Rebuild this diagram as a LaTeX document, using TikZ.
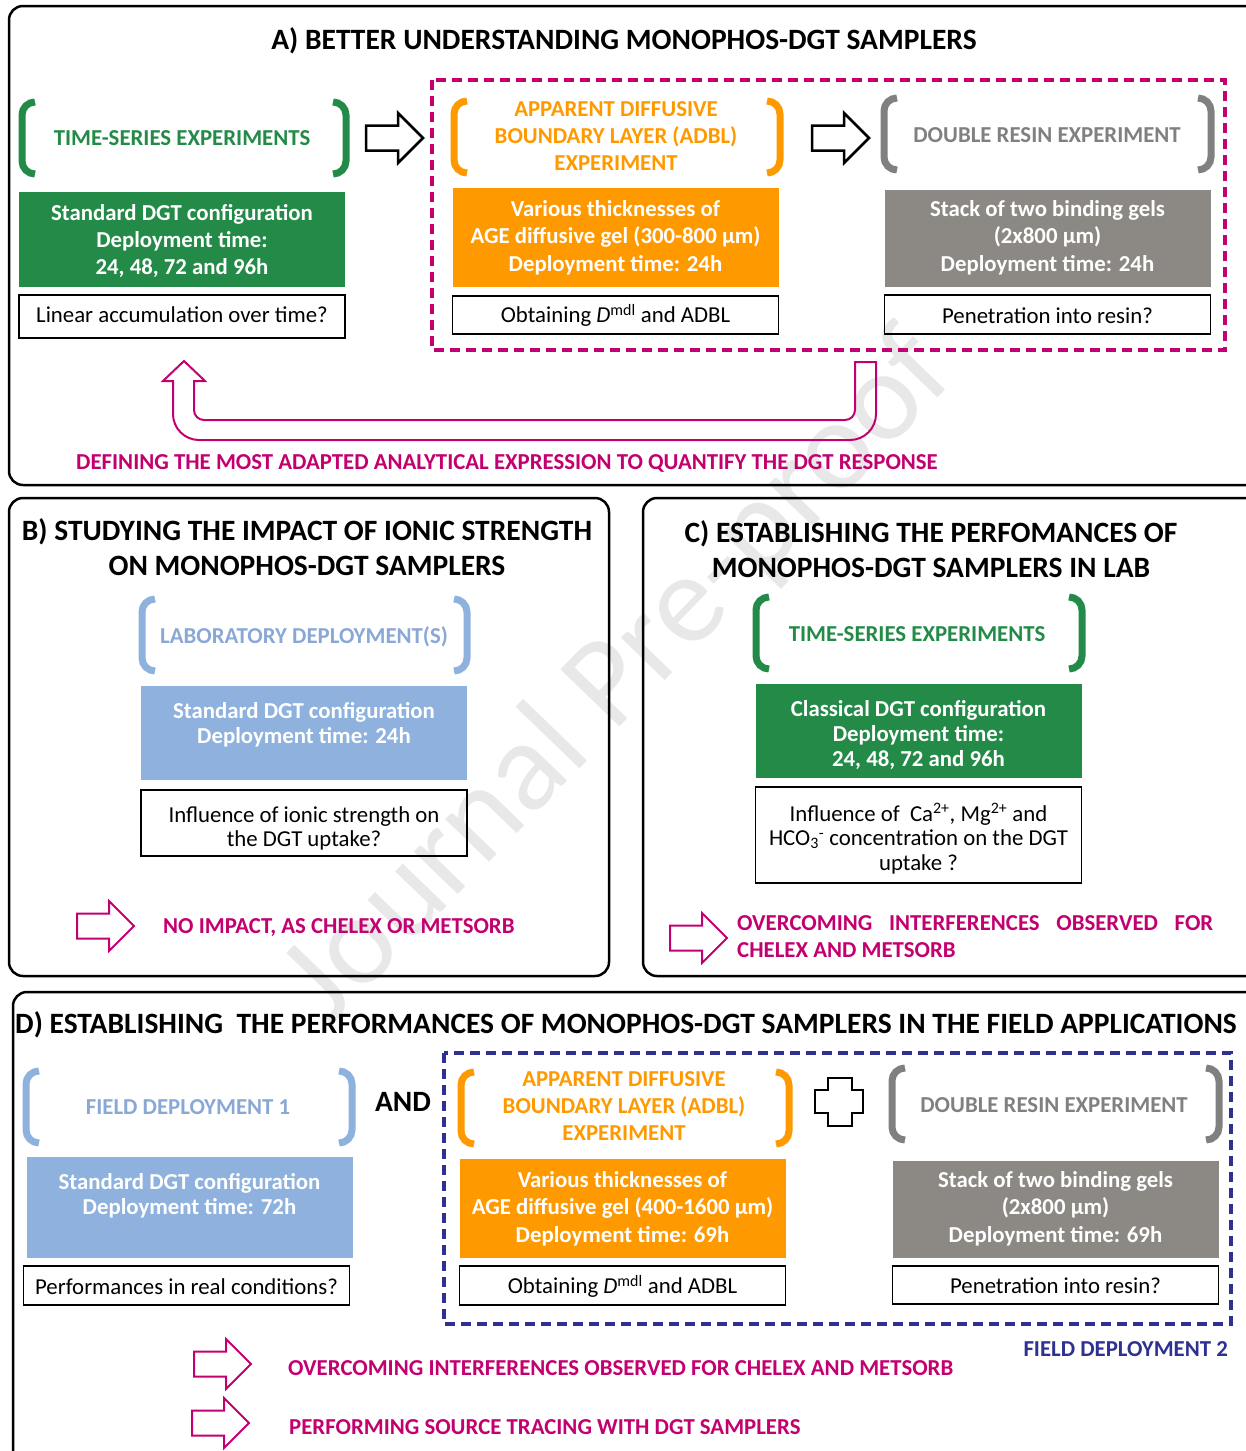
\documentclass[tikz,border=0pt]{standalone}
\usepackage{fontspec}
\setmainfont{Carlito}
\definecolor{grn}{RGB}{35,139,71}
\definecolor{org}{RGB}{255,153,0}
\definecolor{gry}{RGB}{128,128,128}
\definecolor{gbox}{RGB}{140,137,132}
\definecolor{lblue}{RGB}{142,178,221}
\definecolor{lbtxt}{RGB}{138,168,214}
\definecolor{mag}{RGB}{194,0,112}
\definecolor{navy}{RGB}{46,49,146}
\tikzset{
  panel/.style={draw=black, line width=2.5, rounded corners=14},
  ttl/.style={font=\fontsize{29.5}{35}\selectfont\bfseries, align=center, inner sep=0},
  brk/.style={line width=7, line cap=butt},
  lbrk/.pic={\draw (13,-36) to[out=180,in=90] (0,-23) -- (0,23) to[out=-90,in=180] (13,36);},
  rbrk/.pic={\draw (-13,-36) to[out=0,in=90] (0,-23) -- (0,23) to[out=-90,in=0] (-13,36);},
  barrow/.pic={\draw (0,-12.5) -- (32,-12.5) -- (32,-25) -- (57,0) -- (32,25) -- (32,12.5) -- (0,12.5) -- cycle;},
  btxt/.style={font=\fontsize{22.8}{27}\selectfont\bfseries, align=center, inner sep=0},
  cbox/.style={inner sep=0, minimum width=326},
  wbox/.style={draw=black, line width=1.6, inner sep=0, minimum width=326},
  wtxt/.style={font=\fontsize{22.8}{25}\selectfont, align=center, inner sep=0},
  magtxt/.style={font=\fontsize{22.8}{27}\selectfont\bfseries, text=mag, inner sep=0, anchor=west},
  dashbox/.style={line width=3.5, dash pattern=on 10 off 6},
}
\begin{document}
\begin{tikzpicture}[x=1pt,y=-1pt]
\useasboundingbox (0,0) rectangle (1245,1451);
% watermark
\node[rotate=46, text=black!9, inner sep=0, font=\fontsize{128}{128}\selectfont] (wm) at (620,678) {Journal Pre-proof};

% ---------------- Panel A
\draw[panel] (9,6) rectangle (1262,485);
\node[ttl] (tA) at (624,41) {A) BETTER UNDERSTANDING MONOPHOS-DGT SAMPLERS};
\pic[brk, color=grn] at (22,138) {lbrk};
\pic[brk, color=grn] at (346,138) {rbrk};
\node[btxt, text=grn] (lA1) at (182,138) {TIME-SERIES EXPERIMENTS};
\node[cbox, fill=grn, minimum height=95] (bA1) at (182,239.5) {};
\node[btxt, text=white] at (182,241) {Standard DGT configuration\\Deployment time:\\24, 48, 72 and 96h};
\node[wbox, minimum height=43] (wA1) at (182,316.5) {};
\node[wtxt] at (182,315) {Linear accumulation over time?};

\pic[line width=2.5, color=black] at (366,138) {barrow};
\draw[mag, dashbox] (432,80) rectangle (1225,350);

\pic[brk, color=org] at (454,137) {lbrk};
\pic[brk, color=org] at (780,137) {rbrk};
\node[btxt, text=org] (lA2) at (616,136) {APPARENT DIFFUSIVE\\BOUNDARY LAYER (ADBL)\\EXPERIMENT};
\node[cbox, fill=org, minimum height=99] (bA2) at (615.5,237.5) {};
\node[btxt, text=white, font=\fontsize{22.8}{27.5}\selectfont\bfseries] at (615.5,237.5) {Various thicknesses of\\AGE diffusive gel (300-800 µm)\\Deployment time: 24h};
\node[wbox, minimum height=38] (wA2) at (615.5,315) {};
\node[wtxt] at (615.5,315.5) {Obtaining \textit{D}\textsuperscript{mdl} and ADBL};

\pic[line width=2.5, color=black] at (812,138) {barrow};

\pic[brk, color=gry] at (884,134) {lbrk};
\pic[brk, color=gry] at (1211,134) {rbrk};
\node[btxt, text=gry] (lA3) at (1047,135) {DOUBLE RESIN EXPERIMENT};
\node[cbox, fill=gbox, minimum height=97] (bA3) at (1047.5,238.5) {};
\node[btxt, text=white, font=\fontsize{22.8}{27.5}\selectfont\bfseries] at (1047.5,237.5) {Stack of two binding gels\\(2x800 µm)\\Deployment time: 24h};
\node[wbox, minimum height=39] (wA3) at (1047.5,314.5) {};
\node[wtxt] at (1047.5,316) {Penetration into resin?};

% U arrow
\draw[mag, line width=2] (855,362) -- (876,362) [rounded corners=26] -- (876,440) -- (173,440) [sharp corners] -- (173,381) -- (163,381) -- (184,361) -- (205,381) -- (194,381) [rounded corners=10] -- (194,420) -- (855,420) [sharp corners] -- cycle;
\node[magtxt] (dA) at (76,463) {DEFINING THE MOST ADAPTED ANALYTICAL EXPRESSION TO QUANTIFY THE DGT RESPONSE};

% ---------------- Panel B
\draw[panel] (9,498) rectangle (609,976);
\node[ttl] (tB) at (307,547.5) {B) STUDYING THE IMPACT OF IONIC STRENGTH\\ON MONOPHOS-DGT SAMPLERS};
\pic[brk, color=lblue] at (142,635) {lbrk};
\pic[brk, color=lblue] at (467,635) {rbrk};
\node[btxt, text=lbtxt] (lB) at (304,637) {LABORATORY DEPLOYMENT(S)};
\node[cbox, fill=lblue, minimum height=94] (bB) at (304,733) {};
\node[btxt, text=white, font=\fontsize{22.8}{25}\selectfont\bfseries] at (304,724.5) {Standard DGT configuration\\Deployment time: 24h};
\node[wbox, minimum height=66] (wB) at (304,823) {};
\node[wtxt, font=\fontsize{22.8}{24}\selectfont] at (304,828) {Influence of ionic strength on\\the DGT uptake?};
\pic[line width=2, color=mag] at (77,926) {barrow};
\node[magtxt] (rB) at (163,928) {NO IMPACT, AS CHELEX OR METSORB};

% ---------------- Panel C
\draw[panel] (643,498) rectangle (1262,976);
\node[ttl] (tC) at (931,549.5) {C) ESTABLISHING THE PERFOMANCES OF\\MONOPHOS-DGT SAMPLERS IN LAB};
\pic[brk, color=grn] at (756,633) {lbrk};
\pic[brk, color=grn] at (1082,633) {rbrk};
\node[btxt, text=grn] (lC) at (917,634) {TIME-SERIES EXPERIMENTS};
\node[cbox, fill=grn, minimum height=94] (bC) at (918.5,731) {};
\node[btxt, text=white, font=\fontsize{22.8}{25}\selectfont\bfseries] at (918.5,735) {Classical DGT configuration\\Deployment time:\\24, 48, 72 and 96h};
\node[wbox, minimum height=96] (wC) at (918.5,835) {};
\node[wtxt, font=\fontsize{22.8}{24.5}\selectfont] at (918.5,838.5) {Influence of\ \ Ca\textsuperscript{2+}, Mg\textsuperscript{2+} and\\HCO\textsubscript{3}\textsuperscript{-} concentration on the DGT\\uptake ?};
\pic[line width=2, color=mag] at (670,938) {barrow};
\node[magtxt, anchor=north west, align=left] (rC) at (737,915) {\makebox[476pt][s]{OVERCOMING INTERFERENCES OBSERVED FOR}\\CHELEX AND METSORB};

% ---------------- Panel D
\draw[panel] (13,992) rectangle (1262,1470);
\node[ttl] (tD) at (626,1025) {D) ESTABLISHING\ \ THE PERFORMANCES OF MONOPHOS-DGT SAMPLERS IN THE FIELD APPLICATIONS};
\pic[brk, color=lblue] at (26,1107) {lbrk};
\pic[brk, color=lblue] at (352,1107) {rbrk};
\node[btxt, text=lbtxt] (lD1) at (188,1107) {FIELD DEPLOYMENT 1};
\node[cbox, fill=lblue, minimum height=101] (bD1) at (189.5,1207.5) {};
\node[btxt, text=white, font=\fontsize{22.8}{25}\selectfont\bfseries] at (189.5,1195.5) {Standard DGT configuration\\Deployment time: 72h};
\node[wbox, minimum height=39] (wD1) at (186.5,1285.5) {};
\node[wtxt] at (186.5,1287) {Performances in real conditions?};
\node[ttl] (and) at (403,1102) {AND};

\draw[navy, dashbox] (444,1053) rectangle (1231,1324);
\pic[brk, color=org] at (461,1108) {lbrk};
\pic[brk, color=org] at (789,1108) {rbrk};
\node[btxt, text=org] (lD2) at (624,1106.5) {APPARENT DIFFUSIVE\\BOUNDARY LAYER (ADBL)\\EXPERIMENT};
\node[cbox, fill=org, minimum height=99] (bD2) at (622.5,1208.5) {};
\node[btxt, text=white, font=\fontsize{22.8}{27.5}\selectfont\bfseries] at (622.5,1208.5) {Various thicknesses of\\AGE diffusive gel (400-1600 µm)\\Deployment time: 69h};
\node[wbox, minimum height=39] (wD2) at (622.5,1285.5) {};
\node[wtxt] at (622.5,1286.5) {Obtaining \textit{D}\textsuperscript{mdl} and ADBL};

\draw[black, line width=2.5] (828,1078) -- (852,1078) -- (852,1090) -- (863,1090) -- (863,1113) -- (852,1113) -- (852,1126) -- (828,1126) -- (828,1113) -- (815,1113) -- (815,1090) -- (828,1090) -- cycle;

\pic[brk, color=gry] at (892,1104) {lbrk};
\pic[brk, color=gry] at (1219,1104) {rbrk};
\node[btxt, text=gry] (lD3) at (1054,1105) {DOUBLE RESIN EXPERIMENT};
\node[cbox, fill=gbox, minimum height=97] (bD3) at (1055.5,1209.5) {};
\node[btxt, text=white, font=\fontsize{22.8}{27.5}\selectfont\bfseries] at (1055.5,1208.5) {Stack of two binding gels\\(2x800 µm)\\Deployment time: 69h};
\node[wbox, minimum height=38] (wD3) at (1055.5,1285) {};
\node[wtxt] at (1055.5,1286) {Penetration into resin?};
\node[btxt, text=navy, anchor=east] (fd2) at (1228,1349) {FIELD DEPLOYMENT 2};

\pic[line width=2, color=mag] at (194,1364) {barrow};
\node[magtxt] (rD1) at (288,1368) {OVERCOMING INTERFERENCES OBSERVED FOR CHELEX AND METSORB};
\pic[line width=2, color=mag] at (192,1423) {barrow};
\node[magtxt] (rD2) at (289,1427) {PERFORMING SOURCE TRACING WITH DGT SAMPLERS};
\end{tikzpicture}
\end{document}
